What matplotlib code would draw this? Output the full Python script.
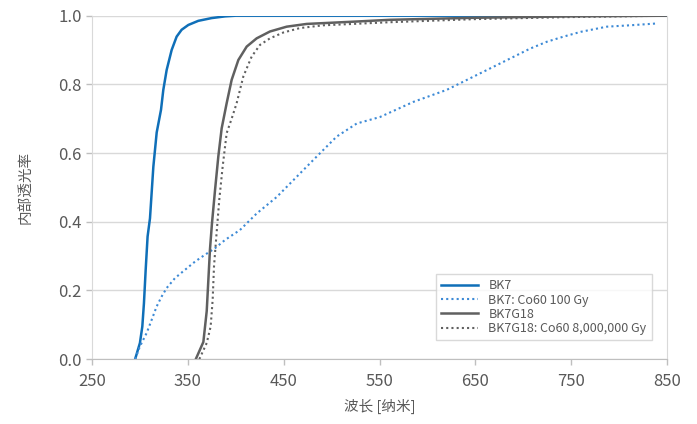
import matplotlib
matplotlib.use("Agg")
import matplotlib.pyplot as plt

plt.rcParams['font.family'] = ['Noto Sans CJK SC', 'DejaVu Sans']

# BK7
bk7_x = [295, 300, 302.5, 304.2, 306, 308, 310.5, 314, 317.5, 322.0, 324.4, 327.9, 333.1, 338.3, 343.5,
         350.5, 360.9, 374.8, 388.8, 400, 500, 650, 850]
bk7_y = [0.0, 0.047, 0.095, 0.163, 0.26, 0.357, 0.41, 0.56, 0.66, 0.726, 0.784, 0.842, 0.900, 0.939, 0.959,
         0.973, 0.985, 0.993, 0.998, 1.0, 1.0, 1.0, 1.0]

# BK7: Co60 100 Gy
bk7r_x = [295, 300, 307, 312.2, 317.4, 322.6, 327.9, 336.6, 347, 357.5, 367.9, 378.4, 388.8, 404.4, 421.8,
          442.7, 463.6, 484.5, 505.3, 526.2, 550.5, 585.3, 620.1, 637.5, 654.9, 672.3, 689.7, 707, 724.5,
          741.9, 760, 787.1, 811.4, 837.5]
bk7r_y = [0.0, 0.037, 0.076, 0.114, 0.153, 0.182, 0.207, 0.236, 0.26, 0.284, 0.304, 0.323, 0.347, 0.376,
          0.424, 0.472, 0.531, 0.59, 0.648, 0.686, 0.705, 0.749, 0.784, 0.808, 0.832, 0.856, 0.880, 0.904,
          0.924, 0.939, 0.953, 0.968, 0.972, 0.977]

# BK7G18
g18_x = [358.3, 366.2, 369.7, 371.4, 373.1, 375.2, 378.4, 381.8, 385.3, 390.5, 395.7, 402.7, 411.4, 421.8,
         435.7, 453.1, 474, 526, 561, 650, 750, 850]
g18_y = [0.0, 0.05, 0.14, 0.23, 0.32, 0.396, 0.493, 0.59, 0.672, 0.745, 0.813, 0.871, 0.910, 0.934,
         0.954, 0.968, 0.976, 0.983, 0.988, 0.994, 0.998, 1.0]

# BK7G18: Co60 8,000,000 Gy
g18r_x = [362, 369.7, 373.8, 375.9, 377.3, 380, 382.8, 386.3, 390.5, 395.7, 400.9, 407.9, 416.6, 425.3,
          435.7, 449.6, 467, 491.4, 561, 650, 750, 850]
g18r_y = [0.0, 0.047, 0.095, 0.173, 0.27, 0.367, 0.464, 0.56, 0.658, 0.70, 0.745, 0.823, 0.881, 0.915,
          0.934, 0.951, 0.964, 0.972, 0.981, 0.99, 0.996, 1.0]

x_ticks = [250, 350, 450, 550, 650, 750, 850]
y_ticks = [0.0, 0.2, 0.4, 0.6, 0.8, 1.0]
labels = ["BK7", "BK7: Co60 100 Gy", "BK7G18", "BK7G18: Co60 8,000,000 Gy"]

fig = plt.figure(figsize=(6.97, 4.24), dpi=100)
ax = fig.add_axes([0.132, 0.153, 0.825, 0.81])

txt = '#595959'
ax.plot(bk7_x, bk7_y, color='#0f6fb8', lw=1.8, label=labels[0])
ax.plot(bk7r_x, bk7r_y, color='#3d8ad6', lw=1.5, ls=(0, (1, 1.5)), label=labels[1])
ax.plot(g18_x, g18_y, color='#606060', lw=1.8, label=labels[2])
ax.plot(g18r_x, g18r_y, color='#606060', lw=1.5, ls=(0, (1, 1.5)), label=labels[3])

ax.set_xlim(250, 850)
ax.set_ylim(0, 1.0)
ax.set_xticks(x_ticks)
ax.set_yticks(y_ticks)
ax.set_yticklabels([f"{v:.1f}" for v in y_ticks])
ax.yaxis.grid(True, color='#d9d9d9', lw=1)
ax.set_axisbelow(True)
ax.tick_params(axis='both', colors='#bfbfbf', labelcolor=txt, labelsize=12, length=4, width=1)
ax.tick_params(axis='x', pad=6)
for s in ['left', 'right']:
    ax.spines[s].set_color('#d9d9d9')
ax.spines['bottom'].set_color('#bfbfbf')
ax.spines['top'].set_visible(False)

ax.set_xlabel("波长 [纳米]", color=txt, fontsize=10.5, labelpad=6)
ax.set_ylabel("内部透光率", color=txt, fontsize=10.5, labelpad=18)

leg = ax.legend(loc='upper right', bbox_to_anchor=(0.984, 0.265), fontsize=9, frameon=True,
                fancybox=False, edgecolor='#d0d0d0', handlelength=3.0, labelspacing=0.1,
                borderpad=0.4)
leg.get_frame().set_linewidth(1.0)
for t in leg.get_texts():
    t.set_color(txt)

fig.savefig("out.png", dpi=100)
